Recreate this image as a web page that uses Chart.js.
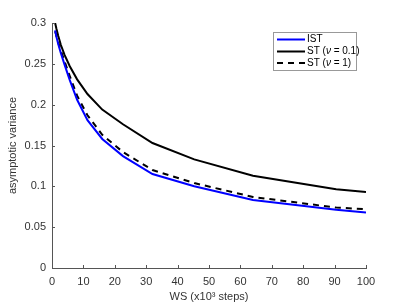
<!DOCTYPE html>
<html>
<head>
<meta charset="utf-8">
<script src="https://cdn.jsdelivr.net/npm/chart.js@4.4.1/dist/chart.umd.min.js"></script>
<style>
  html, body { margin: 0; padding: 0; background: #fff; }
  #wrap { width: 404px; height: 303px; }
</style>
</head>
<body>
<div id="wrap"><canvas id="myChart" width="404" height="303"></canvas></div>
<script>
// datos
const wsSteps = [1, 1.41, 2, 2.83, 4, 5.66, 8, 11.3, 16, 22.6, 32, 45.3, 64, 90.5, 100];
const istValues = [0.291, 0.283, 0.274, 0.263, 0.249, 0.230, 0.206, 0.181, 0.158, 0.137, 0.115, 0.100, 0.0834, 0.0712, 0.068];
const stNu01Values = [0.300, 0.293, 0.284, 0.273, 0.261, 0.247, 0.231, 0.213, 0.194, 0.176, 0.153, 0.133, 0.113, 0.0965, 0.093];
const stNu1Values = [0.290, 0.284, 0.276, 0.266, 0.253, 0.235, 0.211, 0.187, 0.163, 0.142, 0.120, 0.104, 0.087, 0.074, 0.072];
const seriesLabels = ['IST', 'ST (ν = 0.1)', 'ST (ν = 1)'];
const xTicks = [0, 10, 20, 30, 40, 50, 60, 70, 80, 90, 100];
const yTicks = [0, 0.05, 0.1, 0.15, 0.2, 0.25, 0.3];

const pts = vals => wsSteps.map((x, i) => ({ x: x, y: vals[i] }));
const axisColor = '#555';
const textColor = '#333';
const fontFam = '"Liberation Sans", Arial, sans-serif';

// ticks hacia adentro, como en MATLAB
const innerTicks = {
  id: 'innerTicks',
  afterDraw(chart) {
    const c = chart.ctx, xs = chart.scales.x, ys = chart.scales.y;
    const a = chart.chartArea;
    c.save();
    c.strokeStyle = axisColor;
    c.lineWidth = 1;
    c.beginPath();
    xTicks.forEach(v => {
      const px = Math.round(xs.getPixelForValue(v)) + 0.5;
      c.moveTo(px, a.bottom); c.lineTo(px, a.bottom - 3);
    });
    yTicks.forEach(v => {
      const py = Math.round(ys.getPixelForValue(v)) + 0.5;
      c.moveTo(a.left, py); c.lineTo(a.left + 3, py);
    });
    c.stroke();
    c.restore();
  }
};

// leyenda dibujada a mano (con nu en cursiva)
const boxLegend = {
  id: 'boxLegend',
  afterDraw(chart) {
    const c = chart.ctx;
    const bx = 273.5, by = 32.5, bw = 83, bh = 38;
    c.save();
    c.fillStyle = '#fff';
    c.fillRect(bx, by, bw, bh);
    c.strokeStyle = '#999';
    c.lineWidth = 1;
    c.strokeRect(bx, by, bw, bh);
    const rows = [39.5, 51.5, 63];
    chart.data.datasets.forEach((ds, i) => {
      const y = rows[i];
      c.strokeStyle = ds.borderColor;
      c.lineWidth = 2;
      c.setLineDash(ds.borderDash || []);
      c.beginPath();
      c.moveTo(277, y); c.lineTo(305, y);
      c.stroke();
      c.setLineDash([]);
      c.fillStyle = '#000';
      c.textBaseline = 'middle';
      const parts = ds.label.split('ν');
      let x = 307;
      c.font = '10px ' + fontFam;
      c.fillText(parts[0], x, y);
      x += c.measureText(parts[0]).width;
      if (parts.length > 1) {
        c.font = 'italic 10px ' + fontFam;
        c.fillText('ν', x, y);
        x += c.measureText('ν').width;
        c.font = '10px ' + fontFam;
        c.fillText(parts[1], x, y);
      }
    });
    c.restore();
  }
};

const ctx = document.getElementById('myChart');

new Chart(ctx, {
  type: 'line',
  data: {
    datasets: [
      { label: seriesLabels[0], data: pts(istValues), borderColor: '#0000ff', borderWidth: 2, pointRadius: 0, tension: 0, fill: false },
      { label: seriesLabels[1], data: pts(stNu01Values), borderColor: '#000000', borderWidth: 2, pointRadius: 0, tension: 0, fill: false },
      { label: seriesLabels[2], data: pts(stNu1Values), borderColor: '#000000', borderWidth: 2, borderDash: [6, 5], pointRadius: 0, tension: 0, fill: false }
    ]
  },
  options: {
    responsive: false,
    animation: false,
    layout: { padding: { top: 23, right: 38, left: 0, bottom: 0 } },
    plugins: {
      legend: { display: false },
      tooltip: { enabled: false }
    },
    scales: {
      x: {
        type: 'linear',
        min: 0, max: 100,
        afterBuildTicks: s => { s.ticks = xTicks.map(v => ({ value: v })); },
        afterFit: s => { s.height = 35; },
        grid: { display: false, drawTicks: false },
        border: { display: true, color: axisColor, width: 1 },
        ticks: { padding: 7, color: textColor, font: { family: fontFam, size: 11 }, maxRotation: 0, callback: v => String(v) },
        title: { display: true, text: 'WS (x10³ steps)', color: textColor, font: { family: fontFam, size: 11 }, padding: { top: 0, bottom: -1 } }
      },
      y: {
        min: 0, max: 0.3,
        afterBuildTicks: s => { s.ticks = yTicks.map(v => ({ value: v })); },
        afterFit: s => { s.width = 52; },
        grid: { display: false, drawTicks: false },
        border: { display: true, color: axisColor, width: 1 },
        ticks: { padding: 6, color: textColor, font: { family: fontFam, size: 11 }, callback: v => String(+v.toFixed(2)) },
        title: { display: true, text: 'asymptotic variance', color: textColor, font: { family: fontFam, size: 11 }, padding: { top: 6, bottom: 0 } }
      }
    }
  },
  plugins: [innerTicks, boxLegend]
});
</script>
</body>
</html>
